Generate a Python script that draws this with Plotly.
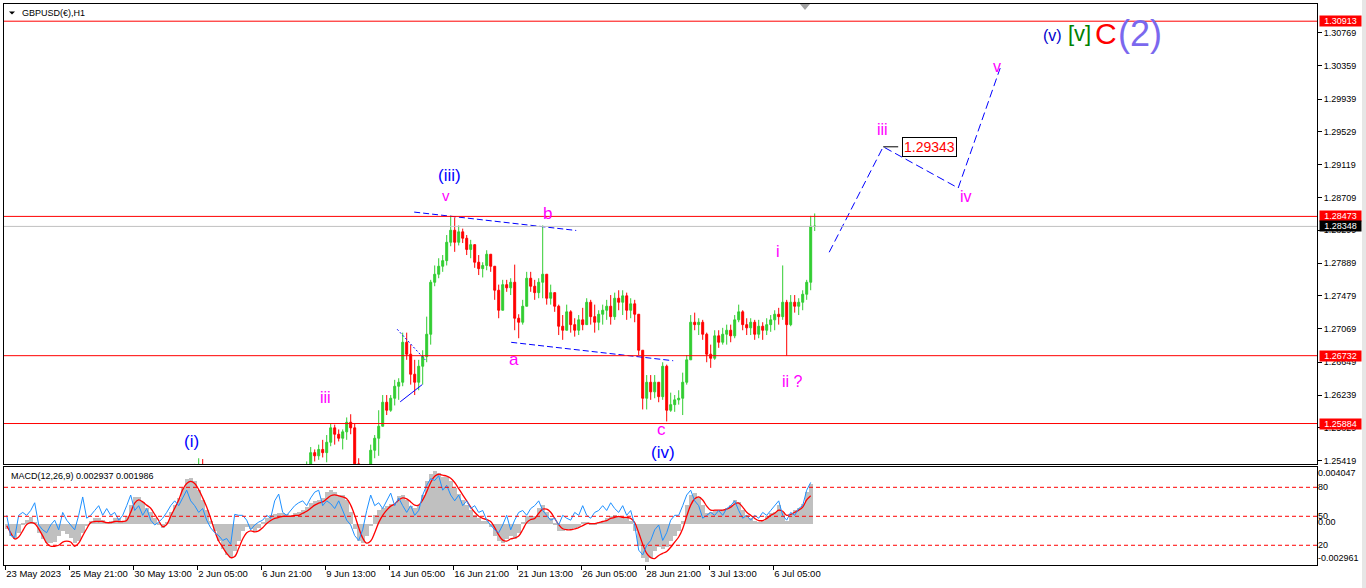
import plotly.graph_objects as go

# ---------------- data ----------------
BASE = 1.2          # price arrays are in pips above 1.2000
PIP = 0.0001
# H1 chart, drawn as 4-bar blocks: block i = bars 4i..4i+3, bar 0 = 23 May 2023 05:00
first_open_pips = 445
close_pips = [443,436,428,420,418,413,408,402,398,404,410,398,385,372,362,345,330,338,345,352,
              358,366,360,368,372,375,370,378,382,392,400,388,370,360,365,378,390,405,420,430,
              428,436,445,460,478,495,510,525,530,520,488,455,440,432,425,410,402,395,390,398,
              405,418,412,420,425,432,438,428,445,452,455,462,470,478,490,530,552,548,556,552,
              565,583,575,570,578,590,583,538,525,512,520,555,570,585,615,605,620,635,640,690,
              675,650,640,660,672,700,765,775,785,792,815,830,815,828,820,806,812,790,782,786,
              800,785,755,730,762,758,765,720,715,735,770,760,752,765,775,745,752,735,710,705,
              728,712,705,718,712,740,722,715,725,730,735,722,745,740,748,730,738,725,680,620,
              640,628,640,622,660,605,612,618,620,640,668,715,712,715,700,675,670,698,690,700,
              705,698,718,728,712,708,715,700,710,705,712,718,725,722,740,712,740,735,740,750,
              765,835,835]
high_pips = [448,441,434,427,423,420,415,410,405,408,414,412,400,388,372,365,350,345,350,360,
             365,372,370,374,378,382,378,384,390,398,408,404,390,375,372,384,396,412,430,440,
             436,444,452,466,485,505,518,538,545,544,528,492,460,445,436,430,412,405,398,405,
             412,425,425,428,432,440,445,440,452,460,462,470,476,485,497,541,559,556,562,568,
             574,589,587,581,581,596,600,588,545,530,525,562,574,605,624,624,624,643,645,702,
             702,687,668,668,680,722,768,786,795,799,824,848,846,836,832,824,818,808,799,790,
             805,799,783,762,768,768,770,787,725,743,778,778,768,770,836,775,762,752,737,724,
             737,730,720,724,733,745,743,737,730,737,743,749,752,755,755,752,745,743,725,680,
             649,649,649,640,665,662,627,624,630,652,674,724,727,720,718,702,687,705,705,708,
             712,712,724,737,730,720,720,718,718,715,720,724,730,733,786,743,749,749,745,755,
             768,848,851]
low_pips = [438,430,422,415,412,408,400,396,392,396,402,392,378,366,355,336,320,326,335,344,
            349,355,354,360,364,368,364,369,375,380,388,378,360,350,356,362,375,386,400,416,
            420,425,430,440,456,472,490,505,518,512,480,440,430,425,415,400,392,382,380,385,
            392,400,400,405,415,420,426,418,425,440,445,450,458,465,475,488,530,541,543,546,
            540,560,562,566,556,568,575,530,515,505,500,515,545,548,585,599,603,611,618,635,
            668,637,624,630,637,665,687,760,770,778,786,810,803,811,814,799,795,783,774,771,
            780,778,743,720,730,753,749,705,695,712,735,753,743,745,745,737,737,728,699,693,
            705,702,697,699,705,712,712,702,705,712,718,712,718,730,724,718,720,715,674,606,
            606,618,620,615,618,591,603,603,612,599,637,668,705,699,693,665,658,668,683,687,
            687,690,695,715,705,699,699,693,695,693,699,703,705,712,718,673,710,727,724,730,
            743,755,829]

# MACD(12,26,9): main (grey histogram) and signal (red), in units of 1e-5
macd_main_e5 = [-37,-88,-110,-66,-7,29,44,7,-66,-110,
                -140,-140,-132,-88,-52,-74,-103,-140,-125,-66,
                -15,22,37,37,29,15,22,37,37,22,
                52,132,191,191,155,110,81,37,-7,-29,
                7,81,132,184,258,316,324,302,243,169,
                96,22,-52,-125,-184,-228,-243,-199,-125,-52,
                -22,-37,-52,-29,7,37,59,66,74,74,
                66,59,74,81,96,118,147,162,169,184,
                228,243,228,206,206,169,81,-37,-125,-140,
                -88,-15,59,96,110,125,140,140,199,206,
                169,125,110,132,206,302,353,375,361,331,
                331,302,258,213,169,132,96,59,37,22,
                22,-22,-88,-125,-140,-110,-88,-110,-66,7,
                52,52,52,110,132,81,37,-7,-52,-52,
                -37,-37,-29,-22,7,7,-7,-7,7,22,
                37,52,59,52,37,37,22,-52,-162,-243,
                -272,-243,-199,-169,-184,-169,-125,-88,-52,22,
                132,206,221,191,132,74,81,96,96,96,
                110,132,169,155,96,59,37,22,7,22,
                52,74,81,132,81,22,66,96,110,140,
                228,280]
macd_signal_e5 = [-15,-66,-110,-96,-52,-7,7,0,-37,-88,
                  -140,-162,-162,-155,-132,-125,-132,-162,-140,-88,
                  -37,7,15,15,15,7,7,15,15,15,
                  22,81,147,169,155,132,110,66,22,-22,
                  -7,52,110,169,243,287,302,287,243,184,
                  118,37,-52,-125,-169,-213,-243,-236,-177,-110,
                  -66,-52,-59,-52,-29,0,22,37,44,52,
                  52,52,59,59,74,88,110,132,147,155,
                  177,199,206,199,191,177,132,59,-29,-103,
                  -140,-125,-66,7,59,96,125,140,169,184,
                  177,155,132,132,169,228,294,339,353,346,
                  339,324,294,250,206,162,118,81,52,37,
                  29,15,-29,-81,-118,-125,-110,-103,-88,-44,
                  7,29,37,74,103,103,81,37,-7,-37,
                  -44,-44,-37,-29,-15,0,0,0,7,15,
                  22,37,44,52,44,44,37,7,-66,-147,
                  -213,-243,-250,-228,-213,-199,-169,-132,-96,-37,
                  52,132,177,191,169,125,96,96,96,96,
                  103,118,140,147,118,81,59,37,22,22,
                  37,59,74,96,88,59,66,81,96,118,
                  169,199]
# blue oscillator on the 0..100 level scale of the lower window
osc_blue = [51,30,28,51,54,51,56,64,41,36,
            33,41,46,36,54,46,41,36,51,70,
            48,51,56,61,51,58,51,54,46,51,
            61,72,56,61,51,58,46,41,44,48,
            54,61,66,61,69,77,66,61,54,58,
            46,38,33,30,25,27,21,52,51,51,
            46,36,41,44,46,51,48,66,73,54,
            51,56,61,64,66,61,69,75,77,61,
            66,63,58,66,56,46,41,30,25,36,
            56,72,61,64,58,66,74,61,69,61,
            54,61,51,56,72,82,89,87,92,77,
            82,72,66,72,61,66,58,61,54,56,
            46,41,36,33,41,51,36,46,54,56,
            51,58,61,66,56,51,46,48,41,51,
            48,46,54,51,61,51,48,54,56,61,
            56,64,58,54,61,51,56,41,15,10,
            20,25,36,41,25,33,46,51,51,61,
            72,77,66,61,48,51,54,51,56,51,
            58,61,66,56,48,51,46,51,48,54,
            51,56,61,66,51,46,54,51,58,61,
            77,85]

tick_bars = [0, 64, 128, 192, 256, 320, 384, 448, 512, 576, 640, 704, 768]
tick_labels = ["23 May 2023", "25 May 21:00", "30 May 13:00", "2 Jun 05:00", "6 Jun 21:00",
               "9 Jun 13:00", "14 Jun 05:00", "16 Jun 21:00", "21 Jun 13:00", "26 Jun 05:00",
               "28 Jun 21:00", "3 Jul 13:00", "6 Jul 05:00"]
price_ticks = [1.30769, 1.30359, 1.29939, 1.29529, 1.29119, 1.28709, 1.28299, 1.27889,
               1.27479, 1.27069, 1.26649, 1.26239, 1.25829, 1.25419]
red_levels = [1.30913, 1.28473, 1.26732, 1.25884]
bid_price = 1.28348
macd_levels = [80, 50, 20]
macd_label_levels = [94.5, 80, 50, 44.4, 20, 6.6]
macd_label_text = ["0.004047", "80", "50", "0.00", "20", "-0.002961"]

# Elliott wave projection and trend lines (bar, price)
proj_bars = [824, 878, 953, 995]
proj_prices = [1.28025, 1.29343, 1.28828, 1.30328]
upper_line_bars = [409, 571]
upper_line_prices = [1.28527, 1.28297]
lower_line_bars = [506, 668]
lower_line_prices = [1.26899, 1.26669]
small_line_bars = [392, 420]
small_line_prices = [1.27062, 1.26680]
small_up_line_bars = [395, 417]
small_up_line_prices = [1.26155, 1.26370]

wave_labels = [
    ("(iii)", 444, 1.28990, "#0000FF", 17),
    ("v", 441, 1.28740, "#FF00FF", 15),
    ("b", 542, 1.28509, "#FF00FF", 17),
    ("a", 509, 1.26680, "#FF00FF", 17),
    ("c", 656, 1.25815, "#FF00FF", 17),
    ("(iv)", 658, 1.25522, "#0000FF", 17),
    ("iii", 320, 1.26215, "#FF00FF", 16),
    ("(i)", 186, 1.25656, "#0000FF", 17),
    ("ii ?", 787, 1.26415, "#FF00FF", 16),
    ("i", 773, 1.28040, "#FF00FF", 16),
    ("iii", 877, 1.29565, "#FF00FF", 16),
    ("iv", 961, 1.28720, "#FF00FF", 16),
    ("v", 992, 1.30350, "#FF00FF", 16),
    ("(v)", 1047, 1.30740, "#0000CD", 16),
    ("[v]", 1074, 1.30765, "#008000", 22),
    ("C", 1101, 1.30759, "#FF0000", 30),
    ("(2)", 1135, 1.30765, "#7B68EE", 36),
]
target_price = 1.29343
target_bar = 924

# ---------------- build ----------------
n = len(close_pips)
xs = [4 * i + 1.5 for i in range(n)]
close = [BASE + c * PIP for c in close_pips]
open_ = [BASE + first_open_pips * PIP] + close[:-1]
high = [max(BASE + h * PIP, o, c) for h, o, c in zip(high_pips, open_, close)]
low = [min(BASE + l * PIP, o, c) for l, o, c in zip(low_pips, open_, close)]

FONT = "Liberation Sans"
W, H = 1366, 588
ML, MR, MT, MB = 4, 49, 4, 23
PW, PH = W - ML - MR, H - MT - MB


def px(xp):
    return (xp - ML) / PW


def py(yp):
    return (H - MB - yp) / PH


fig = go.Figure()

fig.add_trace(go.Candlestick(
    x=xs, open=open_, high=high, low=low, close=close,
    increasing=dict(line=dict(color="#32CD32", width=1), fillcolor="#32CD32"),
    decreasing=dict(line=dict(color="#FF0000", width=1), fillcolor="#FF0000"),
    whiskerwidth=0, xaxis="x", yaxis="y", hoverinfo="skip", showlegend=False))

xm = [4 * i + 1.5 for i in range(len(macd_main_e5))]
fig.add_trace(go.Bar(x=xm, y=[v * 1e-5 for v in macd_main_e5], width=4,
                     marker=dict(color="#C0C0C0", line=dict(width=0)),
                     xaxis="x2", yaxis="y2", hoverinfo="skip", showlegend=False))
fig.add_trace(go.Scatter(x=[4 * i + 1.5 for i in range(len(osc_blue))], y=osc_blue,
                         mode="lines", line=dict(color="#1E90FF", width=1),
                         xaxis="x2", yaxis="y3", hoverinfo="skip", showlegend=False))
fig.add_trace(go.Scatter(x=[4 * i + 1.5 for i in range(len(macd_signal_e5))],
                         y=[v * 1e-5 for v in macd_signal_e5],
                         mode="lines", line=dict(color="#FF0000", width=1.3, shape="spline"),
                         xaxis="x2", yaxis="y2", hoverinfo="skip", showlegend=False))

for bx, by, dash in [(upper_line_bars, upper_line_prices, "6px,3px"),
                     (lower_line_bars, lower_line_prices, "6px,3px"),
                     (small_line_bars, small_line_prices, "2px,2px"),
                     (small_up_line_bars, small_up_line_prices, "solid"),
                     (proj_bars, proj_prices, "8px,4px")]:
    fig.add_trace(go.Scatter(x=bx, y=by, mode="lines",
                             line=dict(color="#0000FF", width=1, dash=dash),
                             xaxis="x", yaxis="y", hoverinfo="skip", showlegend=False))

shapes = []
for lv in red_levels:
    shapes.append(dict(type="line", xref="paper", x0=0, x1=1, yref="y", y0=lv, y1=lv,
                       line=dict(color="#FF0000", width=1)))
shapes.append(dict(type="line", xref="paper", x0=0, x1=1, yref="y", y0=bid_price, y1=bid_price,
                   line=dict(color="#C0C0C0", width=1)))
for lv in macd_levels:
    shapes.append(dict(type="line", xref="paper", x0=0, x1=1, yref="y3", y0=lv, y1=lv,
                       line=dict(color="#FF0000", width=1, dash="4px,3px")))
# short pointer from the target to its label
shapes.append(dict(type="line", xref="x", yref="y", x0=proj_bars[1], x1=target_bar - 31,
                   y0=target_price, y1=target_price, line=dict(color="#000000", width=1)))
# title triangle and chart-shift marker
shapes.append(dict(type="path", xref="paper", yref="paper",
                   path=f"M {px(9)} {py(11.5)} L {px(15)} {py(11.5)} L {px(12)} {py(14.5)} Z",
                   fillcolor="#000000", line=dict(width=0)))
shapes.append(dict(type="path", xref="paper", yref="paper",
                   path=f"M {px(800)} {py(4)} L {px(810)} {py(4)} L {px(805)} {py(10)} Z",
                   fillcolor="#A0A0A0", line=dict(width=0)))
shapes.append(dict(type="rect", xref="paper", yref="paper", x0=px(1362), x1=px(1366),
                   y0=py(588), y1=py(0), fillcolor="#E6E6E6", line=dict(width=0)))

annotations = []
annotations.append(dict(xref="paper", yref="paper", x=px(20), y=py(13.3), xanchor="left",
                        yanchor="middle", text="GBPUSD(€),H1", showarrow=False,
                        font=dict(family=FONT, size=9, color="#000000")))
annotations.append(dict(xref="paper", yref="paper", x=px(9), y=py(476), xanchor="left",
                        yanchor="middle", text="MACD(12,26,9) 0.002937 0.001986", showarrow=False,
                        font=dict(family=FONT, size=9, color="#000000")))
for lv in red_levels:
    annotations.append(dict(xref="paper", yref="y", x=1, y=lv, xanchor="left", yanchor="middle",
                            xshift=2, text=f"{lv:.5f}", showarrow=False, bgcolor="#FF0000",
                            width=41, height=10, borderpad=0,
                            font=dict(family=FONT, size=9, color="#FFFFFF")))
annotations.append(dict(xref="paper", yref="y", x=1, y=bid_price, xanchor="left", yanchor="middle",
                        xshift=2, text=f"{bid_price:.5f}", showarrow=False, bgcolor="#000000",
                        width=41, height=10, borderpad=0,
                        font=dict(family=FONT, size=9, color="#FFFFFF")))
for txt, b, p, col, sz in wave_labels:
    annotations.append(dict(xref="x", yref="y", x=b, y=p, text=txt, showarrow=False,
                            xanchor="center", yanchor="middle",
                            font=dict(family=FONT, size=sz, color=col)))
annotations.append(dict(xref="x", yref="y", x=target_bar, y=target_price, text=f"{target_price:.5f}",
                        showarrow=False, xanchor="center", yanchor="middle",
                        bordercolor="#000000", borderwidth=1, borderpad=1, bgcolor="#FFFFFF",
                        font=dict(family=FONT, size=14, color="#FF0000")))

axis_common = dict(showgrid=False, zeroline=False, showline=True, linecolor="#000000",
                   linewidth=1, mirror=True, automargin=False)

fig.update_layout(
    width=W, height=H, margin=dict(l=ML, r=MR, t=MT, b=MB, autoexpand=False),
    paper_bgcolor="#FFFFFF", plot_bgcolor="#FFFFFF", showlegend=False,
    bargap=0,
    xaxis=dict(domain=[0, 1], anchor="y", range=[-1.2, PW - 1.2], showticklabels=False,
               ticks="", rangeslider=dict(visible=False), **axis_common),
    xaxis2=dict(domain=[0, 1], anchor="y2", matches="x", range=[-1.2, PW - 1.2],
                tickvals=tick_bars, ticktext=tick_labels, ticks="outside", ticklen=4,
                tickcolor="#000000", ticklabelposition="outside right", tickangle=0,
                tickfont=dict(family=FONT, size=9.5, color="#000000"), **axis_common),
    yaxis=dict(domain=[py(464), 1], anchor="x", side="right", range=[1.25378, 1.31128],
               tickvals=price_ticks, ticktext=[f"{t:.5f}" for t in price_ticks],
               ticks="outside", ticklen=4, tickcolor="#000000",
               tickfont=dict(family=FONT, size=9, color="#000000"), **axis_common),
    yaxis2=dict(domain=[0, py(467)], anchor="x2", side="right", range=[-0.002961, 0.004047],
                showticklabels=False, ticks="", **axis_common),
    yaxis3=dict(overlaying="y2", anchor="x2", side="right", range=[-0.4, 101.0],
                tickvals=macd_label_levels, ticktext=macd_label_text, ticks="",
                showgrid=False, zeroline=False, showline=False, automargin=False,
                tickfont=dict(family=FONT, size=9, color="#000000")),
    shapes=shapes, annotations=annotations,
)

fig.write_html("out.html", config={"displayModeBar": False},
               post_script="document.body.style.margin='0';document.body.style.overflow='hidden';")
